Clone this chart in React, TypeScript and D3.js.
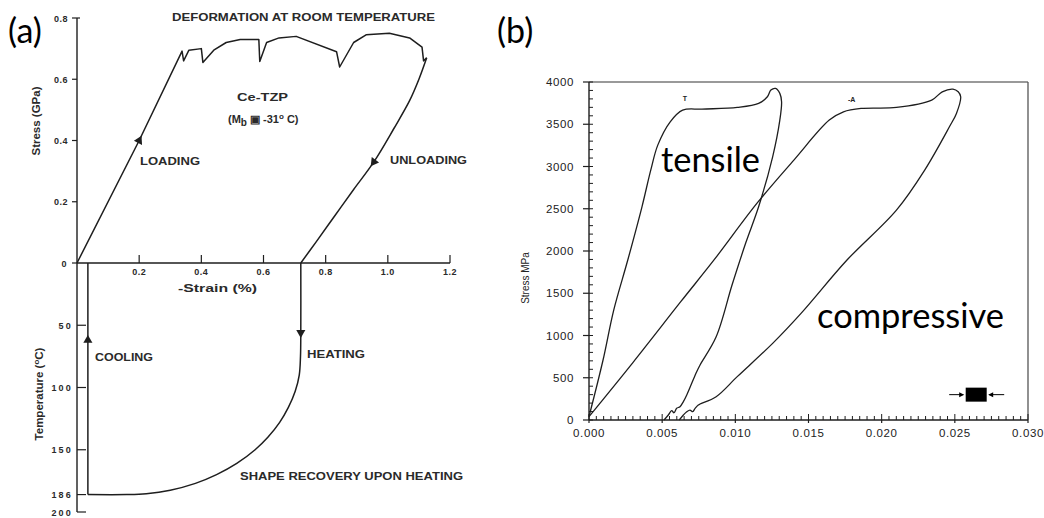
import React from "react";
import * as d3 from "d3";

// ---- panel (a): Ce-TZP, stress/strain above, temperature/strain below ----
const stressTicksA = [0, 0.2, 0.4, 0.6, 0.8];
const strainTicksA = [0.2, 0.4, 0.6, 0.8, 1.0, 1.2];
const tempTicksA = [50, 100, 150, 186, 200];

// [strain %, stress GPa]
const loadingA: [number, number][] = [
  [0, 0], [0.2, 0.4], [0.338, 0.692], [0.343, 0.66], [0.36, 0.695], [0.4, 0.7],
  [0.405, 0.655], [0.44, 0.695], [0.48, 0.72], [0.525, 0.73], [0.585, 0.73],
  [0.588, 0.658], [0.61, 0.72], [0.65, 0.735], [0.705, 0.74], [0.835, 0.69],
  [0.845, 0.64], [0.89, 0.72], [0.93, 0.745], [1.005, 0.75], [1.07, 0.735],
  [1.11, 0.705], [1.115, 0.66], [1.125, 0.67],
];
const unloadingA: [number, number][] = [
  [1.125, 0.67], [1.1, 0.6], [1.07, 0.53], [1.02, 0.44], [0.955, 0.33],
  [0.89, 0.24], [0.83, 0.155], [0.77, 0.07], [0.72, 0],
];
// [strain %, temperature C]
const heatingA: [number, number][] = [
  [0.72, 0], [0.72, 56], [0.719, 75], [0.715, 90], [0.702, 103], [0.68, 116],
  [0.652, 128], [0.614, 140], [0.573, 150], [0.514, 161], [0.449, 170],
  [0.381, 177], [0.3, 182.5], [0.223, 185.3], [0.16, 186], [0.035, 186],
];
const coolingA: [number, number][] = [[0.035, 186], [0.035, 0]];

// ---- panel (b): tensile vs compressive ----
const stressTicksB = [0, 500, 1000, 1500, 2000, 2500, 3000, 3500, 4000];
const strainTicksB = [0, 0.005, 0.01, 0.015, 0.02, 0.025, 0.03];

// [strain, stress MPa]
const tensileB: [number, number][] = [
  [0, 40], [0.00096, 710], [0.00169, 1301], [0.00265, 1893], [0.00362, 2523],
  [0.00422, 2957], [0.0047, 3253], [0.00555, 3529], [0.0064, 3667],
  [0.00772, 3679], [0.01013, 3699], [0.01159, 3746], [0.01219, 3825],
  [0.01243, 3904], [0.01275, 3924], [0.01304, 3865], [0.01316, 3766],
  [0.01304, 3549], [0.01255, 3115], [0.01159, 2523], [0.01072, 2100],
  [0.00978, 1600], [0.00869, 985], [0.00759, 651],
  [0.00736, 571], [0.00702, 434], [0.00668, 296], [0.00645, 217],
  [0.00622, 158], [0.00599, 138], [0.00581, 86], [0.00565, 110],
  [0.00542, 59], [0.00513, 0],
];
const compressiveB: [number, number][] = [
  [0, 40], [0.003, 680], [0.00627, 1400], [0.00857, 1900], [0.01147, 2563],
  [0.014, 3076], [0.01642, 3549], [0.01739, 3647], [0.01859, 3687],
  [0.02101, 3699], [0.02342, 3786], [0.02414, 3884], [0.02487, 3916],
  [0.02523, 3884], [0.0254, 3825], [0.02511, 3628], [0.02463, 3470],
  [0.02294, 2958], [0.02101, 2484], [0.01763, 1893], [0.01449, 1262],
  [0.01255, 907], [0.01013, 513], [0.00869, 276], [0.00759, 189],
  [0.00747, 177], [0.00725, 138], [0.00709, 98], [0.0069, 118],
  [0.00668, 98], [0.00645, 59], [0.00617, 0],
];

const INK = "#1e1e1e";
const TXT = "#2a2a2a";
const HELV = "'Liberation Sans', Arial, sans-serif";
const CAL = "Lato, 'Open Sans', sans-serif";

function Arrow({ x0, y0, x1, y1 }: { x0: number; y0: number; x1: number; y1: number }) {
  const ang = (Math.atan2(y1 - y0, x1 - x0) * 180) / Math.PI + 90;
  const p = d3.symbol().type(d3.symbolTriangle).size(36)() || "";
  return <path d={p} transform={`translate(${x0},${y0}) rotate(${ang})`} fill={INK} />;
}

function PanelA() {
  const x = d3.scaleLinear().domain([0, 1.2]).range([77, 450]);
  const y = d3.scaleLinear().domain([0, 0.8]).range([263, 18]);
  const t = d3.scaleLinear().domain([0, 200]).range([263, 512]);
  const lineS = d3.line<[number, number]>().x((d) => x(d[0])).y((d) => y(d[1]));
  const lineSmooth = d3.line<[number, number]>().x((d) => x(d[0])).y((d) => y(d[1])).curve(d3.curveCatmullRom.alpha(0.5));
  const lineT = d3.line<[number, number]>().x((d) => x(d[0])).y((d) => t(d[1])).curve(d3.curveCatmullRom.alpha(0.5));
  const lab = { fontFamily: HELV, fontWeight: 700, fontSize: 10, fill: TXT } as const;

  return (
    <g>
      <text x={8} y={43} fontFamily={CAL} fontSize={34} fill="#000">(a)</text>
      {/* axes */}
      <line x1={x(0)} x2={x(0)} y1={y(0.8)} y2={t(200)} stroke={INK} strokeWidth={1.4} />
      <line x1={x(0)} x2={x(1.2)} y1={y(0)} y2={y(0)} stroke={INK} strokeWidth={1.4} />
      {stressTicksA.map((v) => (
        <g key={"s" + v}>
          <line x1={x(0) - 5} x2={x(0) + (v === 0.8 ? 3 : 0)} y1={y(v)} y2={y(v)} stroke={INK} strokeWidth={1.2} />
          <text x={v === 0 ? 67 : 68} y={y(v) + 3.5} textAnchor="end" {...lab} fontSize={9} letterSpacing={0.5}>
            {v === 0 ? "0" : v.toFixed(1)}
          </text>
        </g>
      ))}
      {strainTicksA.map((v) => (
        <g key={"x" + v}>
          <line x1={x(v)} x2={x(v)} y1={y(0)} y2={y(0) - 8} stroke={INK} strokeWidth={1.2} />
          <text x={x(v)} y={275} textAnchor="middle" {...lab} fontSize={9} letterSpacing={0.5}>
            {v.toFixed(1)}
          </text>
        </g>
      ))}
      {tempTicksA.map((v) => (
        <g key={"t" + v}>
          <line x1={x(0)} x2={x(0) + 9} y1={t(v)} y2={t(v)} stroke={INK} strokeWidth={1.2} />
          <text x={73} y={t(v) + 3.5} textAnchor="end" {...lab} fontSize={9} letterSpacing={2.2}>
            {String(v)}
          </text>
        </g>
      ))}
      {/* curves */}
      <path d={lineS(loadingA) || ""} fill="none" stroke={INK} strokeWidth={1.5} strokeLinejoin="round" />
      <path d={lineSmooth(unloadingA) || ""} fill="none" stroke={INK} strokeWidth={1.5} />
      <path d={lineT(heatingA) || ""} fill="none" stroke={INK} strokeWidth={1.5} />
      <path d={lineT(coolingA) || ""} fill="none" stroke={INK} strokeWidth={1.5} />
      <Arrow x0={x(0.2)} y0={y(0.4)} x1={x(0.3)} y1={y(0.6)} />
      <Arrow x0={x(0.955)} y0={y(0.33)} x1={x(0.89)} y1={y(0.24)} />
      <Arrow x0={x(0.72)} y0={t(56)} x1={x(0.72)} y1={t(80)} />
      <Arrow x0={x(0.035)} y0={t(62)} x1={x(0.035)} y1={t(40)} />
      {/* labels */}
      <text x={172} y={21} {...lab} fontSize={11} textLength={263} lengthAdjust="spacingAndGlyphs">DEFORMATION AT ROOM TEMPERATURE</text>
      <text x={237} y={101} {...lab} fontSize={11} textLength={51} lengthAdjust="spacingAndGlyphs">Ce-TZP</text>
      <text x={228} y={123} {...lab} fontSize={11}>
        (M<tspan dy={3} fontSize={10}>b</tspan>
        <tspan dy={-3}> ▣ -31</tspan>
        <tspan dy={-4} fontSize={8}>o</tspan>
        <tspan dy={4}> C)</tspan>
      </text>
      <text x={140} y={165} {...lab} textLength={60} lengthAdjust="spacingAndGlyphs">LOADING</text>
      <text x={390} y={164} {...lab} textLength={77} lengthAdjust="spacingAndGlyphs">UNLOADING</text>
      <text x={95} y={361} {...lab} textLength={58} lengthAdjust="spacingAndGlyphs">COOLING</text>
      <text x={307} y={358} {...lab} textLength={58} lengthAdjust="spacingAndGlyphs">HEATING</text>
      <text x={240} y={480} {...lab} textLength={223} lengthAdjust="spacingAndGlyphs">SHAPE RECOVERY UPON HEATING</text>
      <text x={178} y={292} {...lab} textLength={79} lengthAdjust="spacingAndGlyphs">-Strain  (%)</text>
      <text transform="translate(40,121) rotate(-90)" textAnchor="middle" {...lab} fontSize={11.5}>Stress  (GPa)</text>
      <text transform="translate(43,394) rotate(-90)" textAnchor="middle" {...lab} fontSize={11.5}>
        Temperature  (<tspan dy={-4} fontSize={8}>o</tspan><tspan dy={4}>C)</tspan>
      </text>
    </g>
  );
}

function PanelB() {
  const x = d3.scaleLinear().domain([0, 0.03]).range([589, 1028]);
  const y = d3.scaleLinear().domain([0, 4000]).range([420, 82]);
  const line = d3.line<[number, number]>().x((d) => x(d[0])).y((d) => y(d[1])).curve(d3.curveCatmullRom.alpha(0.5));
  const minorY = d3.range(0, 4001, 100);
  const minorX = d3.range(0, 61).map((i) => i * 0.0005);
  const num = { fontFamily: HELV, fontSize: 11.5, fill: "#222", letterSpacing: 0.6 } as const;
  const cx = x(0.02646);
  const cy = y(300);

  return (
    <g>
      <text x={497} y={43} fontFamily={CAL} fontSize={34} fill="#000">(b)</text>
      {/* frame */}
      <line x1={x(0)} x2={x(0.03)} y1={y(4000)} y2={y(4000)} stroke="#777" strokeWidth={1.4} />
      <line x1={x(0.03)} x2={x(0.03)} y1={y(4000)} y2={y(0)} stroke="#555" strokeWidth={1.3} />
      <line x1={x(0)} x2={x(0)} y1={y(4000)} y2={y(0)} stroke={INK} strokeWidth={1.4} />
      <line x1={x(0)} x2={x(0.03)} y1={y(0)} y2={y(0)} stroke={INK} strokeWidth={1.4} />
      {minorY.map((v) => (
        <line key={"my" + v} x1={x(0)} x2={x(0) + 4} y1={y(v)} y2={y(v)} stroke={INK} strokeWidth={1} />
      ))}
      {minorX.map((v, i) => (
        <line key={"mx" + i} x1={x(v)} x2={x(v)} y1={y(0)} y2={y(0) - (i % 10 === 0 ? 6 : 4)} stroke={INK} strokeWidth={1} />
      ))}
      {stressTicksB.map((v) => (
        <g key={"sy" + v}>
          <line x1={x(0) - 6} x2={x(0)} y1={y(v)} y2={y(v)} stroke={INK} strokeWidth={1.2} />
          <text x={574} y={y(v) + 4} textAnchor="end" {...num}>{v}</text>
        </g>
      ))}
      {strainTicksB.map((v) => (
        <g key={"sx" + v}>
          <line x1={x(v)} x2={x(v)} y1={y(0)} y2={y(0) + 3} stroke={INK} strokeWidth={1.2} />
          <text x={x(v)} y={437} textAnchor="middle" {...num}>{v.toFixed(3)}</text>
        </g>
      ))}
      <text transform="translate(529,278) rotate(-90)" textAnchor="middle" fontFamily={HELV} fontSize={10} fill="#222">
        Stress  MPa
      </text>
      {/* curves */}
      <path d={line(tensileB) || ""} fill="none" stroke={INK} strokeWidth={1.3} />
      <path d={line(compressiveB) || ""} fill="none" stroke={INK} strokeWidth={1.3} />
      <text x={x(0.0064)} y={y(3770)} fontFamily={HELV} fontSize={7} fontWeight={700} fill="#222">T</text>
      <text x={x(0.0177)} y={y(3760)} fontFamily={HELV} fontSize={7} fontWeight={700} fill="#222">-A</text>
      {/* compression specimen icon */}
      <rect x={cx - 10.5} y={cy - 7} width={21} height={14} fill="#000" />
      <line x1={cx - 27} x2={cx - 13} y1={cy} y2={cy} stroke="#000" strokeWidth={1} />
      <path d={`M${cx - 12},${cy} l-5,-2.5 l0,5 z`} fill="#000" />
      <line x1={cx + 13} x2={cx + 28} y1={cy} y2={cy} stroke="#000" strokeWidth={1} />
      <path d={`M${cx + 12},${cy} l5,-2.5 l0,5 z`} fill="#000" />
      {/* annotations */}
      <text x={661} y={172} fontFamily={CAL} fontSize={34} fill="#000" textLength={99} lengthAdjust="spacingAndGlyphs">tensile</text>
      <text x={817} y={328} fontFamily={CAL} fontSize={34} fill="#000" textLength={187} lengthAdjust="spacingAndGlyphs">compressive</text>
    </g>
  );
}

export default function App() {
  return (
    <svg
      width={1044}
      height={518}
      style={{ position: "absolute", left: 0, top: 0, background: "#fff" }}
    >
      <rect width={1044} height={518} fill="#fff" />
      <PanelA />
      <PanelB />
    </svg>
  );
}
